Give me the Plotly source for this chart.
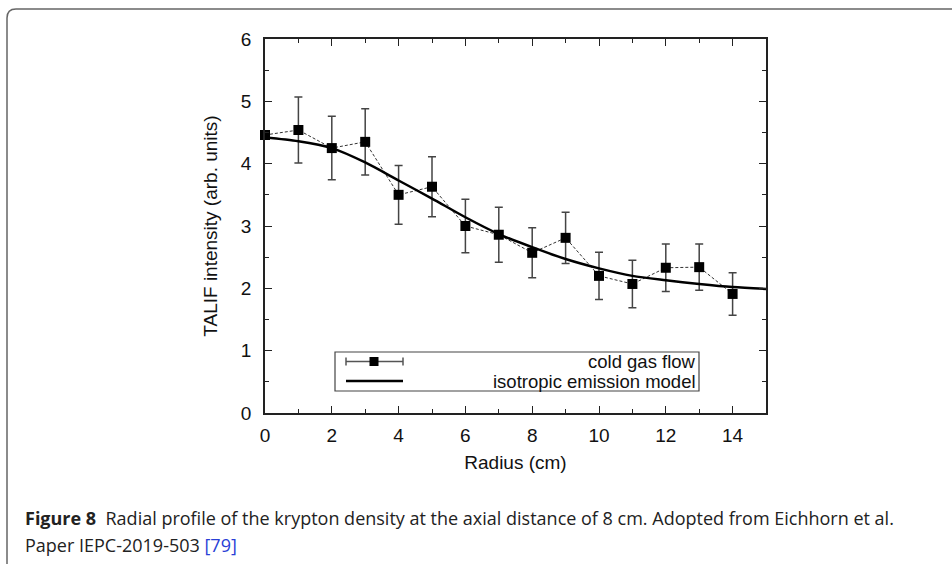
import plotly.graph_objects as go

# ---------------- data ----------------
radius = [0, 1, 2, 3, 4, 5, 6, 7, 8, 9, 10, 11, 12, 13, 14]
intensity = [4.46, 4.54, 4.25, 4.35, 3.50, 3.63, 3.00, 2.86, 2.57, 2.81, 2.20, 2.07, 2.33, 2.34, 1.91]
intensity_err = [0.0, 0.53, 0.51, 0.53, 0.47, 0.48, 0.43, 0.44, 0.40, 0.41, 0.38, 0.38, 0.38, 0.37, 0.34]

model_radius = [0, 1, 2, 3, 4, 5, 6, 7, 8, 9, 10, 11, 12, 13, 14, 15]
model_intensity = [4.42, 4.36, 4.25, 4.02, 3.73, 3.44, 3.14, 2.87, 2.66, 2.47, 2.32, 2.20, 2.13, 2.07, 2.02, 1.99]

x_ticks = [0, 2, 4, 6, 8, 10, 12, 14]
y_ticks = [0, 1, 2, 3, 4, 5, 6]

legend_labels = ["cold gas flow", "isotropic emission model"]
x_title = "Radius (cm)"
y_title = "TALIF intensity (arb. units)"
caption_bold = "Figure 8"
caption_line1 = "Radial profile of the krypton density at the axial distance of 8 cm. Adopted from Eichhorn et al."
caption_line2 = "Paper IEPC-2019-503 "
caption_ref = "[79]"

# ---------------- geometry ----------------
W, H = 952, 564
ML, MR, MT, MB = 265, 186, 39, 151
PW, PH = W - ML - MR, H - MT - MB


def px(x):
    return (x - ML) / PW


def py(y):
    return (H - MB - y) / PH


FONT = "Liberation Sans, Arial, sans-serif"
CAP_FONT = "Open Sans, Noto Sans, sans-serif"
AX_COL = "#222222"
TXT = "#111111"

fig = go.Figure()

fig.add_trace(go.Scatter(
    x=radius, y=intensity,
    mode="lines+markers",
    line=dict(color="#333333", width=1, dash="3px,2px"),
    marker=dict(symbol="square", size=10, color="black"),
    error_y=dict(type="data", array=intensity_err, color="#444444", thickness=1.5, width=4),
    showlegend=False, cliponaxis=False,
))

fig.add_trace(go.Scatter(
    x=model_radius, y=model_intensity,
    mode="lines",
    line=dict(color="black", width=2.5, shape="spline", smoothing=0.8),
    showlegend=False,
))

axis_common = dict(
    showline=True, linecolor=AX_COL, linewidth=1.5, mirror="allticks",
    ticks="inside", ticklen=7, tickwidth=1, tickcolor=AX_COL,
    showgrid=False, zeroline=False,
    tickfont=dict(family=FONT, size=19, color=TXT),
)

fig.update_xaxes(
    range=[0, 15], tickvals=x_ticks, ticktext=[str(v) for v in x_ticks],
    minor=dict(ticks="inside", dtick=1, tick0=0, ticklen=4, tickcolor=AX_COL, showgrid=False),
    title=dict(text=x_title, font=dict(family=FONT, size=19, color=TXT), standoff=11),
    ticklabelstandoff=4,
    **axis_common,
)
fig.update_yaxes(
    range=[0, 6], tickvals=y_ticks, ticktext=[str(v) for v in y_ticks],
    minor=dict(ticks="inside", dtick=0.5, tick0=0, ticklen=4, tickcolor=AX_COL, showgrid=False),
    title=dict(text=y_title, font=dict(family=FONT, size=19, color=TXT), standoff=18),
    ticklabelstandoff=8,
    **axis_common,
)

shapes = []
# outer rounded frame
frame_path = (f"M {px(7)},{py(580)} L {px(7)},{py(18)} "
              f"Q {px(7)},{py(9)} {px(16)},{py(9)} L {px(960)},{py(9)}")
shapes.append(dict(type="path", xref="paper", yref="paper", path=frame_path,
                   line=dict(color="#666666", width=1.5)))
# legend box
shapes.append(dict(type="rect", xref="paper", yref="paper",
                   x0=px(335), x1=px(699), y0=py(352), y1=py(391),
                   line=dict(color="#444444", width=1.2), fillcolor="white", layer="above"))
# legend key 1: error bar with square
ly1, ly2 = 361.5, 381
shapes.append(dict(type="line", xref="paper", yref="paper", x0=px(346), x1=px(403), y0=py(ly1), y1=py(ly1),
                   line=dict(color="#555555", width=1.5), layer="above"))
for cx in (346, 403):
    shapes.append(dict(type="line", xref="paper", yref="paper", x0=px(cx), x1=px(cx),
                       y0=py(ly1 - 4), y1=py(ly1 + 4), line=dict(color="#555555", width=1.5), layer="above"))
shapes.append(dict(type="rect", xref="paper", yref="paper", x0=px(369.5), x1=px(378.5),
                   y0=py(ly1 - 4.5), y1=py(ly1 + 4.5), line=dict(width=0), fillcolor="black", layer="above"))
# legend key 2: model line
shapes.append(dict(type="line", xref="paper", yref="paper", x0=px(346), x1=px(403), y0=py(ly2), y1=py(ly2),
                   line=dict(color="black", width=2.5), layer="above"))

annotations = [
    dict(text=legend_labels[0], xref="paper", yref="paper", x=px(698), y=py(ly1),
         xanchor="right", yanchor="middle", showarrow=False,
         font=dict(family=FONT, size=18.5, color=TXT)),
    dict(text=legend_labels[1], xref="paper", yref="paper", x=px(698), y=py(ly2 + 0.5),
         xanchor="right", yanchor="middle", showarrow=False,
         font=dict(family=FONT, size=18.5, color=TXT)),
    dict(text=f"<b>{caption_bold}</b>  {caption_line1}", xref="paper", yref="paper",
         x=px(23), y=py(518), xanchor="left", yanchor="middle", showarrow=False,
         font=dict(family=CAP_FONT, size=18, color="#222222")),
    dict(text=f"{caption_line2}<span style='color:#2a3fd6'>{caption_ref}</span>", xref="paper", yref="paper",
         x=px(23), y=py(545), xanchor="left", yanchor="middle", showarrow=False,
         font=dict(family=CAP_FONT, size=18, color="#222222")),
]

fig.update_layout(
    width=W, height=H,
    margin=dict(l=ML, r=MR, t=MT, b=MB),
    paper_bgcolor="white", plot_bgcolor="white",
    shapes=shapes, annotations=annotations,
    showlegend=False,
)

fig.write_html("out.html")
